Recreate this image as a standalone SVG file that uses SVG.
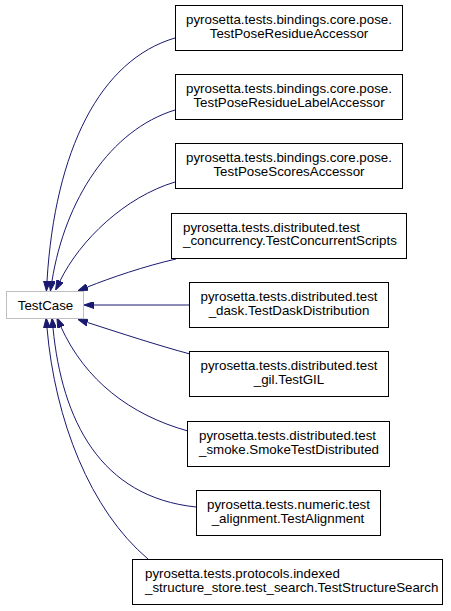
<svg xmlns="http://www.w3.org/2000/svg" width="451" height="611" viewBox="0 0 451 611">
<style>
.box{fill:#fff;stroke:#000;stroke-width:1}
.root{fill:#fff;stroke:#bfbfbf;stroke-width:1}
text{font-family:"Liberation Sans",Arial,sans-serif;font-size:13.33px;fill:#000}
.m{text-anchor:middle}
.edge{fill:none;stroke:#191970;stroke-width:1}
</style>
<defs>
<marker id="arr" viewBox="0 0 10 7" markerWidth="10" markerHeight="7" refX="0" refY="3.5" markerUnits="userSpaceOnUse" orient="auto">
<path d="M0,0 L10,3.5 L0,7 Z" fill="#191970" stroke="#191970" stroke-width="1"/>
</marker>
</defs>
<rect width="451" height="611" fill="#fff"/>
<g id="edges">
<path class="edge" marker-end="url(#arr)" d="M175,38 C100,60 55,150 47,281"/>
<path class="edge" marker-end="url(#arr)" d="M175,110 C110,130 65,200 52,281"/>
<path class="edge" marker-end="url(#arr)" d="M175,182 C125,197 80,240 60,281"/>
<path class="edge" marker-end="url(#arr)" d="M176,259 C145,266 110,278 87.5,287"/>
<path class="edge" marker-end="url(#arr)" d="M189,305 L94,305"/>
<path class="edge" marker-end="url(#arr)" d="M190,354 C160,346 120,333 87.5,322.5"/>
<path class="edge" marker-end="url(#arr)" d="M188,431 C130,415 85,380 61,327"/>
<path class="edge" marker-end="url(#arr)" d="M196,507 C100,497 62,420 53,328"/>
<path class="edge" marker-end="url(#arr)" d="M148,559 C90,510 55,420 47,328"/>
</g>
<g id="TestCase">
<rect class="root" x="6.5" y="291.5" width="77" height="27"/>
<text class="m" x="45.5" y="309.5">TestCase</text>
</g>
<g id="TestPoseResidueAccessor">
<rect class="box" x="175.5" y="5.5" width="227" height="45"/>
<text class="m" x="289" y="24">pyrosetta.tests.bindings.core.pose.</text>
<text class="m" x="289" y="37.5">TestPoseResidueAccessor</text>
</g>
<g id="TestPoseResidueLabelAccessor">
<rect class="box" x="175.5" y="74.5" width="227" height="45"/>
<text class="m" x="289" y="93">pyrosetta.tests.bindings.core.pose.</text>
<text class="m" x="289" y="106.5">TestPoseResidueLabelAccessor</text>
</g>
<g id="TestPoseScoresAccessor">
<rect class="box" x="175.5" y="143.5" width="227" height="45"/>
<text class="m" x="289" y="162">pyrosetta.tests.bindings.core.pose.</text>
<text class="m" x="289" y="175.5">TestPoseScoresAccessor</text>
</g>
<g id="TestConcurrentScripts">
<rect class="box" x="171.5" y="213.5" width="235" height="45"/>
<text x="183" y="231.5">pyrosetta.tests.distributed.test</text>
<text x="183" y="245">_concurrency.TestConcurrentScripts</text>
</g>
<g id="TestDaskDistribution">
<rect class="box" x="189.5" y="282.5" width="199" height="45"/>
<text class="m" x="289" y="301">pyrosetta.tests.distributed.test</text>
<text class="m" x="289" y="314.5">_dask.TestDaskDistribution</text>
</g>
<g id="TestGIL">
<rect class="box" x="189.5" y="351.5" width="199" height="45"/>
<text class="m" x="289" y="370">pyrosetta.tests.distributed.test</text>
<text class="m" x="289" y="383.5">_gil.TestGIL</text>
</g>
<g id="SmokeTestDistributed">
<rect class="box" x="187.5" y="421.5" width="202" height="45"/>
<text x="199" y="440">pyrosetta.tests.distributed.test</text>
<text x="199" y="453.5">_smoke.SmokeTestDistributed</text>
</g>
<g id="TestAlignment">
<rect class="box" x="196.5" y="490.5" width="184" height="45"/>
<text class="m" x="288.5" y="509">pyrosetta.tests.numeric.test</text>
<text class="m" x="288" y="522.5">_alignment.TestAlignment</text>
</g>
<g id="TestStructureSearch">
<rect class="box" x="132.5" y="559.5" width="310" height="45"/>
<text x="145" y="578">pyrosetta.tests.protocols.indexed</text>
<text x="145" y="591.5">_structure_store.test_search.TestStructureSearch</text>
</g>
</svg>
